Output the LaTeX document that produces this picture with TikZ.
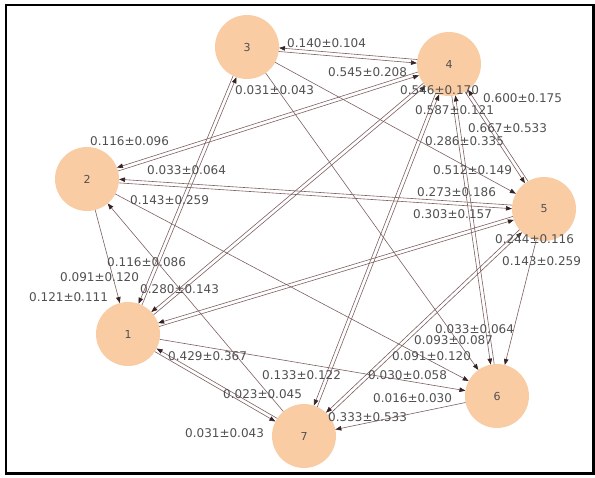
\documentclass[tikz,border=0pt]{standalone}
\usepackage{fontspec}
\setmainfont{DejaVu Sans}
\usetikzlibrary{arrows.meta,calc}
\definecolor{nodefill}{RGB}{250,204,164}
\definecolor{edgec}{RGB}{125,95,95}
\definecolor{tipc}{RGB}{55,35,35}
\definecolor{labc}{RGB}{80,80,80}
\newcommand\dedge[3]{\draw[edge] ($(#1)!#3!-90:(#2)$) -- ($(#2)!#3!90:(#1)$);}
\begin{document}
\begin{tikzpicture}[x=1pt,y=-1pt,
  vtx/.style={circle,fill=nodefill,minimum size=64pt,inner sep=0pt,font=\fontsize{11}{13}\selectfont,text=labc},
  edge/.style={draw=edgec,line width=0.6pt,-{Triangle[length=6pt,width=4.5pt,color=tipc]},shorten >=32pt,shorten <=32pt},
  lab/.style={font=\fontsize{12}{14}\selectfont,text=labc,inner sep=0pt,anchor=west}]
\useasboundingbox (0,0) rectangle (595,478);
\draw[line width=2.5pt] (6,5.2) rectangle (593.5,473.5);
% nodes
\node[vtx] (n1) at (128,334) {1};
\node[vtx] (n2) at (87,179) {2};
\node[vtx] (n3) at (247,47) {3};
\node[vtx] (n4) at (449,64) {4};
\node[vtx] (n5) at (544,209) {5};
\node[vtx] (n6) at (497,396) {6};
\node[vtx] (n7) at (304,436) {7};
% bidirectional pairs
\foreach \a/\b in {n1/n3,n1/n4,n1/n5,n1/n7,n2/n4,n2/n5,n3/n4,n4/n5,n4/n6,n4/n7,n5/n7}{
  \dedge{\a}{\b}{1.8pt}
  \dedge{\b}{\a}{1.8pt}
}
% single edges
\foreach \a/\b in {n2/n1,n7/n2,n3/n5,n1/n6,n2/n6,n3/n6,n5/n6,n6/n7}{
  \dedge{\a}{\b}{0pt}
}
% labels
\node[lab] (l1) at (287,43) {0.140±0.104};
\node[lab] (l2) at (328,72) {0.545±0.208};
\node[lab] (l3) at (235,90) {0.031±0.043};
\node[lab] (l4) at (400,90) {0.546±0.170};
\node[lab] (l5) at (415,110) {0.587±0.121};
\node[lab] (l6) at (483,98) {0.600±0.175};
\node[lab] (l7) at (468,128) {0.667±0.533};
\node[lab] (l8) at (425,141) {0.286±0.335};
\node[lab] (l9) at (433,170) {0.512±0.149};
\node[lab] (l10) at (90,141) {0.116±0.096};
\node[lab] (l11) at (147,170) {0.033±0.064};
\node[lab] (l12) at (130,200) {0.143±0.259};
\node[lab] (l13) at (417,192) {0.273±0.186};
\node[lab] (l14) at (413,214) {0.303±0.157};
\node[lab] (l15) at (495,239) {0.244±0.116};
\node[lab] (l16) at (502,261) {0.143±0.259};
\node[lab] (l17) at (107,262) {0.116±0.086};
\node[lab] (l18) at (60,277) {0.091±0.120};
\node[lab] (l19) at (29,297) {0.121±0.111};
\node[lab] (l20) at (140,289) {0.280±0.143};
\node[lab] (l21) at (168,356) {0.429±0.367};
\node[lab] (l22) at (435,329) {0.033±0.064};
\node[lab] (l23) at (414,340) {0.093±0.087};
\node[lab] (l24) at (392,356) {0.091±0.120};
\node[lab] (l25) at (368,375) {0.030±0.058};
\node[lab] (l26) at (373,398) {0.016±0.030};
\node[lab] (l27) at (328,417) {0.333±0.533};
\node[lab] (l28) at (262,375) {0.133±0.122};
\node[lab] (l29) at (223,394) {0.023±0.045};
\node[lab] (l30) at (185,433) {0.031±0.043};
\end{tikzpicture}
\end{document}
